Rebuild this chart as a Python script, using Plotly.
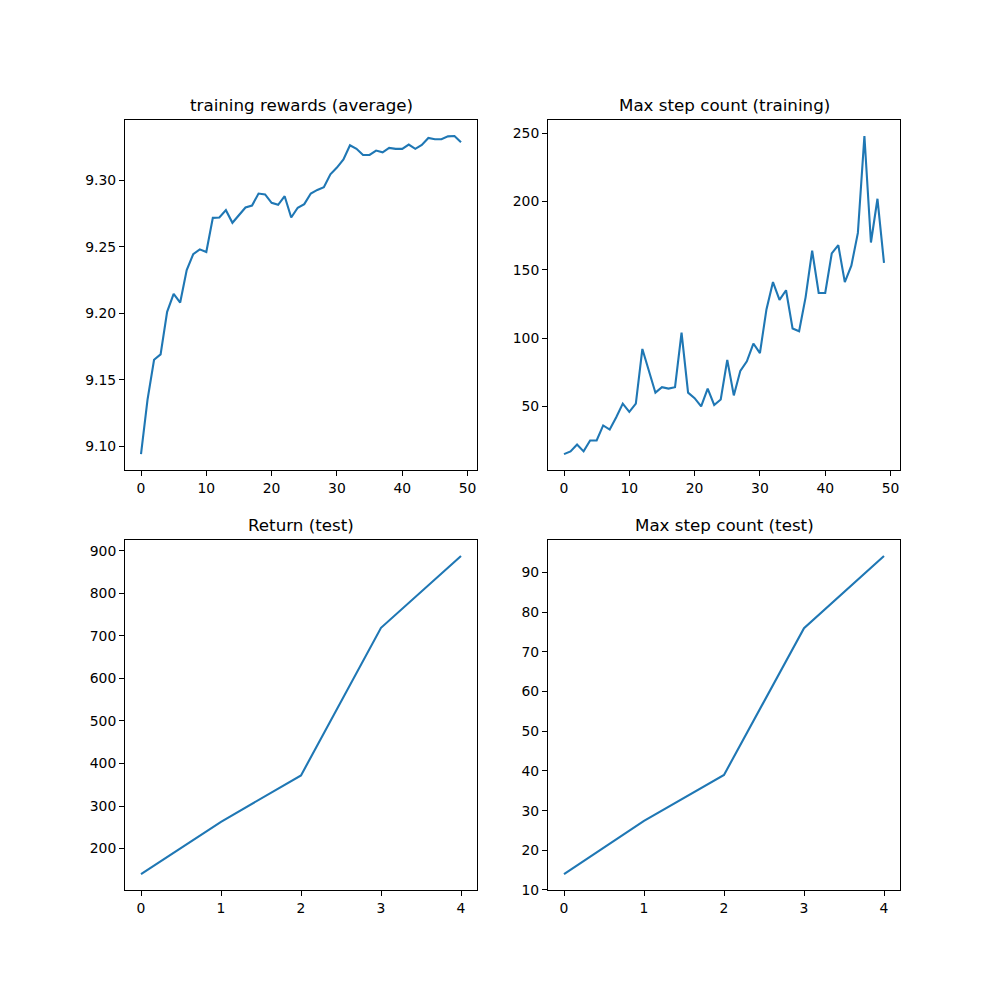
import plotly.graph_objects as go

# ─────────────────────────────────────────────
# Data
# ─────────────────────────────────────────────

train_rewards = [
    9.094, 9.135, 9.165, 9.169, 9.201, 9.2145, 9.208, 9.2324, 9.2444, 9.248,
    9.246, 9.2717, 9.272, 9.2775, 9.268, 9.2737, 9.2795, 9.281, 9.290, 9.2893,
    9.283, 9.2815, 9.288, 9.272, 9.2793, 9.282, 9.290, 9.2927, 9.2947, 9.3045,
    9.3095, 9.3156, 9.3263, 9.3236, 9.319, 9.319, 9.3223, 9.321, 9.3243, 9.3236,
    9.3236, 9.3268, 9.3236, 9.3266, 9.3318, 9.3308, 9.3308, 9.333, 9.3333, 9.3286,
]

train_max_steps = [
    15, 17, 22, 17, 25, 25, 36, 33, 42, 52,
    46, 52, 92, 75, 60, 64, 63, 64, 104, 60,
    56, 50, 63, 51, 55, 84, 58, 76, 83, 96,
    89, 121, 141, 128, 135, 107, 105, 130, 164, 133,
    133, 162, 168, 141, 153, 177, 248, 170, 202, 155,
]

test_return = [140, 263, 372, 719, 888]
test_max_steps = [14, 27.4, 39, 76, 94.2]

titles = [
    "training rewards (average)",
    "Max step count (training)",
    "Return (test)",
    "Max step count (test)",
]

series = [train_rewards, train_max_steps, test_return, test_max_steps]

# ─────────────────────────────────────────────
# Layout (matplotlib-like 2x2 grid)
# the page body has an 8px margin and the capture squeezes the height a
# little, so domains are corrected to land on the reference pixels
# ─────────────────────────────────────────────

OFF = 8
SY = 1000 / 1008
W, H = 1000, 1000


def px_x(p):
    return (p - OFF) / W


def px_y(p):
    return 1 - (p / SY - OFF) / H


x_domains = [[px_x(125), px_x(477)], [px_x(548), px_x(900)]]
y_domains = [[px_y(470), px_y(120)], [px_y(890), px_y(540)]]

LINE_COLOR = "#1f77b4"
FONT = "DejaVu Sans, Liberation Sans, sans-serif"


def pad_range(vals, frac=0.05):
    lo, hi = min(vals), max(vals)
    m = (hi - lo) * frac
    return [lo - m, hi + m]


y_ticks = [
    dict(dtick=0.05, tickformat=".2f"),
    dict(dtick=50),
    dict(dtick=100),
    dict(dtick=10),
]

fig = go.Figure()
layout = {}
annotations = []

for i, vals in enumerate(series):
    row, col = divmod(i, 2)
    n = i + 1
    suffix = "" if n == 1 else str(n)
    xs = list(range(len(vals)))

    fig.add_trace(go.Scatter(
        x=xs,
        y=vals,
        mode="lines",
        line=dict(color=LINE_COLOR, width=2.1),
        xaxis="x" + suffix,
        yaxis="y" + suffix,
        showlegend=False,
        hoverinfo="x+y",
    ))

    axis_common = dict(
        showgrid=False,
        zeroline=False,
        showline=True,
        linecolor="black",
        linewidth=1,
        mirror=True,
        ticks="outside",
        ticklen=5,
        tickwidth=1,
        tickcolor="black",
        tickfont=dict(family=FONT, size=13.9, color="black"),
    )

    layout["xaxis" + suffix] = dict(
        axis_common,
        domain=x_domains[col],
        anchor="y" + suffix,
        range=pad_range(xs),
        dtick=10 if len(xs) > 10 else 1,
    )
    layout["yaxis" + suffix] = dict(
        axis_common,
        domain=y_domains[row],
        anchor="x" + suffix,
        range=pad_range(vals),
        **y_ticks[i],
    )

    annotations.append(dict(
        text=titles[i],
        x=sum(x_domains[col]) / 2,
        y=y_domains[row][1],
        xref="paper",
        yref="paper",
        xanchor="center",
        yanchor="bottom",
        yshift=3,
        showarrow=False,
        font=dict(family=FONT, size=16.7, color="black"),
    ))

fig.update_layout(
    **layout,
    annotations=annotations,
    width=W,
    height=H,
    margin=dict(l=0, r=0, t=0, b=0),
    paper_bgcolor="white",
    plot_bgcolor="white",
)

fig.write_html("out.html")
